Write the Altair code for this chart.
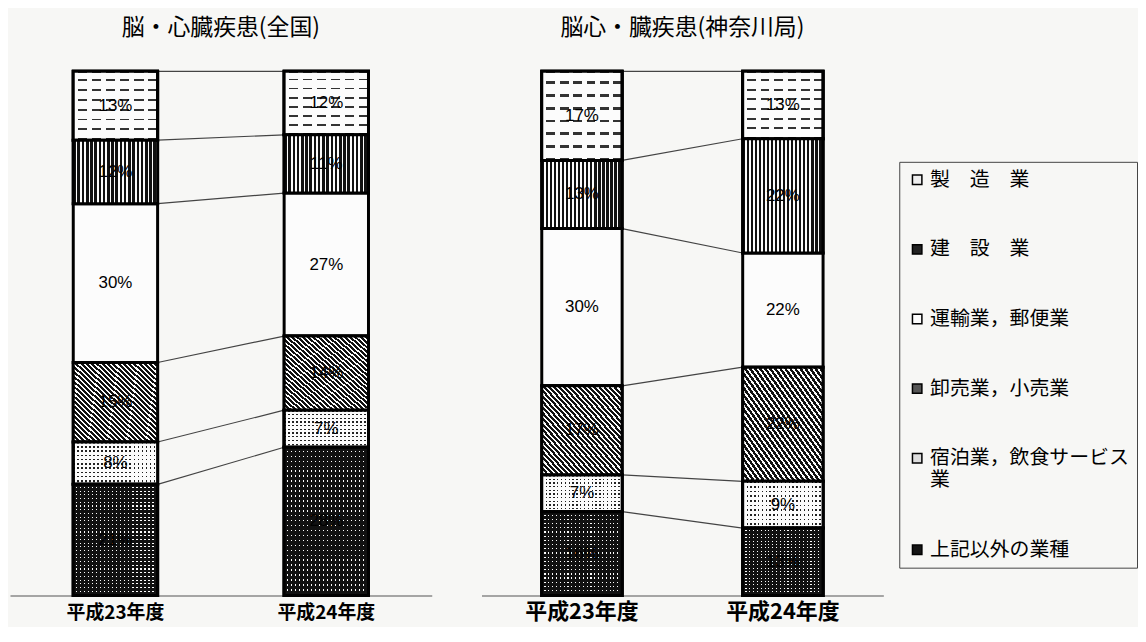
import altair as alt
import pandas as pd

# ---------------- data ----------------
years = ["平成23年度", "平成24年度"]
industries = ["製　造　業", "建　設　業", "運輸業，郵便業", "卸売業，小売業",
              "宿泊業，飲食サービス業", "上記以外の業種"]
national_h23 = [13, 12, 30, 15, 8, 21]
national_h24 = [12, 11, 27, 14, 7, 28]
kanagawa_h23 = [17, 13, 30, 17, 7, 16]
kanagawa_h24 = [13, 22, 22, 22, 9, 13]
panel_titles = ["脳・心臓疾患(全国)", "脳心・臓疾患(神奈川局)"]

# ---------------- styling ----------------
JP = "Noto Sans CJK JP"
NUM = "Liberation Sans Narrow, Liberation Sans, Arial, sans-serif"
PAPER = "#f7f7f5"
WHITE = "#fcfcfc"
H = 527
base_colors = ["#eeeeee", "#222222", WHITE, "#555555", "#dddddd", "#151515"]
LABEL_EXPR = ("datum.label == '宿泊業，飲食サービス業' ? "
              "['宿泊業，飲食サービス', ' 業'] : datum.label")


def stripes(n, frac, c1, c2, x1, y1, x2, y2):
    stops = []
    for i in range(n):
        a = i / n
        b = (i + frac) / n
        c = (i + 1) / n
        stops += [{"offset": round(a, 5), "color": c1},
                  {"offset": round(b, 5), "color": c1},
                  {"offset": round(b, 5), "color": c2},
                  {"offset": round(c, 5), "color": c2}]
    return {"gradient": "linear", "x1": x1, "y1": y1, "x2": x2, "y2": y2,
            "stops": stops}


def frames(series):
    seg_rows, link_rows, bounds = [], [], {}
    for year, vals in zip(years, series):
        total = float(sum(vals))
        top = 1.0
        b = [top]
        for ind, v in zip(industries, vals):
            bottom = top - v / total
            seg_rows.append({"year": year, "industry": ind, "y0": bottom,
                             "y1": top, "mid": (top + bottom) / 2,
                             "label": f"{v}%"})
            top = bottom
            b.append(bottom)
        bounds[year] = b
    for k in range(len(industries)):
        link_rows.append({"src": years[0], "dst": years[1],
                          "ya": bounds[years[0]][k], "yb": bounds[years[1]][k]})
    return pd.DataFrame(seg_rows), pd.DataFrame(link_rows)


legend = alt.Legend(
    orient="none", legendX=894, legendY=91, title=None,
    symbolType="square", symbolSize=90, symbolStrokeColor="black",
    symbolStrokeWidth=1.5, labelFont=JP, labelFontSize=20,
    labelColor="black", labelLimit=400, rowPadding=50, padding=8,
    strokeColor="#444", labelOffset=3, labelExpr=LABEL_EXPR,
)


def panel(series, title, width, label_size, label_pad, dark_rows):
    seg, links = frames(series)
    xs = alt.Scale(domain=years, paddingInner=0.6, paddingOuter=0.3)
    ys = alt.Scale(domain=[0, 1])

    conn = alt.Chart(links).mark_rule(color="#444", strokeWidth=1.2).encode(
        x=alt.X("src:N", bandPosition=1, scale=xs,
                axis=alt.Axis(orient="top", offset=-H, labels=False, title=None,
                              domainColor="#555", tickColor="#555", tickSize=7,
                              tickBand="extent", domainWidth=1.2, tickWidth=1.2,
                              grid=False)),
        x2=alt.X2("dst:N", bandPosition=0),
        y=alt.Y("ya:Q", scale=ys, axis=None),
        y2="yb:Q",
    )

    bars = alt.Chart(seg).mark_bar(stroke="black", strokeWidth=3).encode(
        x=alt.X("year:N", scale=xs,
                axis=alt.Axis(orient="bottom", title=None, labelAngle=0,
                              domain=False, ticks=False, grid=False,
                              labelFont=JP, labelFontSize=label_size,
                              labelFontWeight="bold",
                              labelPadding=label_pad, labelColor="black")),
        y=alt.Y("y1:Q", scale=ys, axis=None),
        y2="y0:Q",
        color=alt.Color("industry:N",
                        scale=alt.Scale(domain=industries, range=base_colors),
                        legend=legend),
    )

    def overlay(ind, grad):
        return alt.Chart(seg).transform_filter(
            alt.datum.industry == ind
        ).mark_bar(fill=grad, stroke="black", strokeWidth=3).encode(
            x=alt.X("year:N", scale=xs, axis=None),
            y=alt.Y("y1:Q", scale=ys, axis=None),
            y2="y0:Q",
        )

    clear_w = "rgba(252,252,252,0)"
    clear_k = "rgba(17,17,17,0)"
    overlays = [
        # 製造業: rows of dashes
        overlay(industries[0], stripes(7, 0.8, WHITE, "#333", 0, 0, 0, 1)),
        overlay(industries[0], stripes(6, 0.35, WHITE, clear_w, 0, 0, 1, 0)),
        # 建設業: vertical stripes
        overlay(industries[1], stripes(20, 0.62, "#111", WHITE, 0, 0, 1, 0)),
        # 卸売業: diagonal stripes
        overlay(industries[3], stripes(32, 0.58, "#111", WHITE, 0, 1, 1, 0)),
        # 宿泊業: light dots
        overlay(industries[4], stripes(10, 0.35, "#222", WHITE, 0, 0, 0, 1)),
        overlay(industries[4], stripes(21, 0.35, clear_w, WHITE, 0, 0, 1, 0)),
        # 上記以外: dark dots
        overlay(industries[5], stripes(dark_rows, 0.7, "#111", WHITE, 0, 0, 0, 1)),
        overlay(industries[5], stripes(21, 0.7, "#111", clear_k, 0, 0, 1, 0)),
    ]

    text = alt.Chart(seg).mark_text(font=NUM, fontSize=17, color="black").encode(
        x=alt.X("year:N", scale=xs, axis=None),
        y=alt.Y("mid:Q", scale=ys, axis=None),
        text="label:N",
    )

    return alt.layer(conn, bars, *overlays, text).resolve_axis(
        x="independent"
    ).properties(
        width=width, height=H,
        title=alt.TitleParams(title, font=JP, fontSize=23, fontWeight="normal",
                              color="black", offset=30, anchor="middle"),
    )


left = panel([national_h23, national_h24], panel_titles[0], 424, 19, 8, 30)
right = panel([kanagawa_h23, kanagawa_h24], panel_titles[1], 404, 22, 6, 20)

chart = alt.hconcat(left, right, spacing=50).properties(
    padding={"left": 2, "top": 7, "right": 0, "bottom": 3},
    background=PAPER,
).configure_view(stroke=None)

chart.save("out.html", embed_options={"renderer": "svg", "actions": False})
